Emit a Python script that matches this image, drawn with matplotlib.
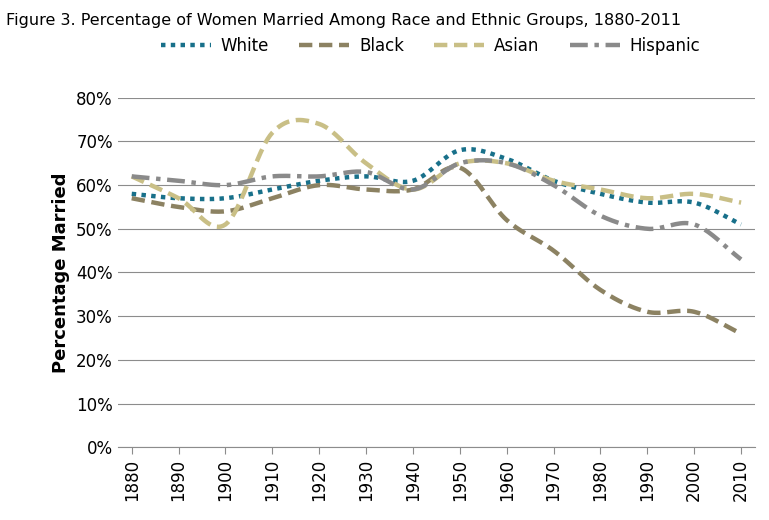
import numpy as np
import matplotlib.pyplot as plt

years = [1880, 1890, 1900, 1910, 1920, 1930, 1940, 1950, 1960, 1970, 1980, 1990, 2000, 2010]
white = [58, 57, 57, 59, 61, 62, 61, 68, 66, 61, 58, 56, 56, 51]
black = [57, 55, 54, 57, 60, 59, 59, 64, 52, 45, 36, 31, 31, 26]
asian = [62, 57, 51, 72, 74, 65, 59, 65, 65, 61, 59, 57, 58, 56]
hispanic = [62, 61, 60, 62, 62, 63, 59, 65, 65, 60, 53, 50, 51, 43]


def smooth(x, y, n=20):
    # Catmull-Rom curve through the points, like Excel's smoothed line
    x = np.asarray(x, float)
    y = np.asarray(y, float)
    px = np.concatenate([[2 * x[0] - x[1]], x, [2 * x[-1] - x[-2]]])
    py = np.concatenate([[2 * y[0] - y[1]], y, [2 * y[-1] - y[-2]]])
    xs, ys = [], []
    t = np.linspace(0, 1, n, endpoint=False)
    for i in range(1, len(px) - 2):
        for arr, out in ((px, xs), (py, ys)):
            p0, p1, p2, p3 = arr[i - 1:i + 3]
            out.extend(0.5 * (2 * p1 + (-p0 + p2) * t
                              + (2 * p0 - 5 * p1 + 4 * p2 - p3) * t ** 2
                              + (-p0 + 3 * p1 - 3 * p2 + p3) * t ** 3))
    xs.append(x[-1])
    ys.append(y[-1])
    return xs, ys


fig = plt.figure(figsize=(7.69, 5.2), dpi=100)
ax = fig.add_axes([0.153, 0.140, 0.829, 0.672])

series = [
    ("White", white, "#18708A", (0, (1, 1.2)), 3.2),
    ("Black", black, "#8C8262", (0, (3, 1.5)), 3.2),
    ("Asian", asian, "#C9BF86", (0, (3, 1.5)), 3.2),
    ("Hispanic", hispanic, "#8A8A8A", (0, (4, 1.5, 1, 1.5)), 3.2),
]
for name, vals, col, ls, lw in series:
    sx, sy = smooth(years, vals)
    ax.plot(sx, sy, color=col, linestyle=ls, linewidth=lw, label=name)

ax.set_xlim(1877, 2013)
ax.set_ylim(0, 80)
ax.set_yticks(range(0, 81, 10))
ax.set_yticklabels([f"{v}%" for v in range(0, 81, 10)], fontsize=12)
ax.set_xticks(years)
ax.set_xticklabels([str(y) for y in years], rotation=90, fontsize=12)
ax.grid(axis="y", color="#8c8c8c", linewidth=0.8)
ax.set_axisbelow(True)
for s in ["top", "right", "left"]:
    ax.spines[s].set_visible(False)
ax.spines["bottom"].set_color("#8c8c8c")
ax.tick_params(axis="y", length=0)
ax.tick_params(axis="x", color="#8c8c8c", length=5)
ax.set_ylabel("Percentage Married", fontsize=13, fontweight="bold")

fig.text(0.008, 0.975, "Figure 3. Percentage of Women Married Among Race and Ethnic Groups, 1880-2011",
         fontsize=11.5, va="top", ha="left")
fig.legend(loc="center", bbox_to_anchor=(0.56, 0.912), ncol=4, frameon=False,
           fontsize=12, handlelength=3.0, columnspacing=1.8, handletextpad=0.6)

fig.savefig("out.png", dpi=100)
